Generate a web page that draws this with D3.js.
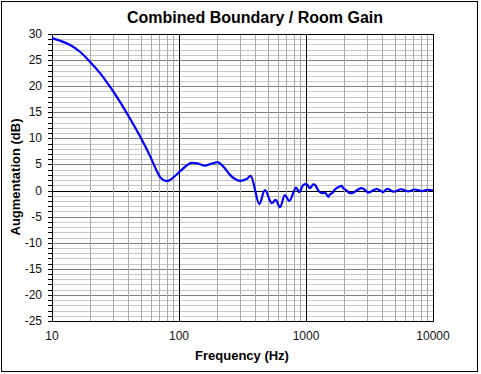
<!DOCTYPE html>
<html>
<head>
<meta charset="utf-8">
<script src="https://cdn.jsdelivr.net/npm/d3@7"></script>
<style>
  body { margin: 0; background: #fff; }
  svg { display: block; font-family: "Liberation Sans", Arial, sans-serif; }
</style>
</head>
<body>
<svg width="481" height="374"></svg>
<script>
// Curve: frequency (Hz) and augmentation (dB)
var freqs = [10, 11.6, 13.9, 16.6, 19.9, 23.9, 28.6, 34.3, 41.1, 49.3, 59.2, 66.7, 72, 78.5,
  84, 91, 102, 115, 125, 140, 160, 178, 204, 225, 252, 276, 302, 341, 367,
  429, 475, 537, 577, 624, 683, 739, 834, 886, 953, 1013, 1075, 1141, 1177,
  1250, 1330, 1412, 1500, 1546, 1623, 1692, 1796, 1909, 1966, 2090, 2219, 2357,
  2534, 2745, 2915, 3097, 3352, 3604, 3828, 4037, 4345, 4932, 5598, 6354, 7212,
  8186, 9136, 10000];
var gains = [29.2, 28.7, 27.9, 26.6, 24.7, 22.5, 19.9, 17.0, 13.8, 10.4, 6.6, 3.8, 2.4, 1.85,
  1.95, 2.6, 3.7, 4.8, 5.3, 5.2, 4.75, 5.1, 5.4, 4.5, 3.0, 2.2, 1.84, 2.2, 2.8,
  -2.6, 0.1, -2.4, -1.8, -3.2, -0.85, -2.0, 0.55, -0.3, 1.1, 1.2, 0.45, 1.2, 1.1,
  0.0, -0.5, -0.4, -1.2, -0.7, -0.4, 0.25, 0.65, 0.9, 0.45, 0.0, -0.5, -0.4,
  0.1, 0.45, 0.1, -0.4, 0.0, 0.3, 0.0, -0.3, 0.3, -0.2, 0.25, -0.15, 0.2,
  -0.1, 0.15, 0.0];

var xTicks = [10, 100, 1000, 10000];
var yTicks = [30, 25, 20, 15, 10, 5, 0, -5, -10, -15, -20, -25];

var svg = d3.select("svg");
var pLeft = 52, pRight = 433, pTop = 34, pBottom = 321;

var x = d3.scaleLog().domain([10, 10000]).range([pLeft, pRight]);
var y = d3.scaleLinear().domain([-25, 30]).range([pBottom, pTop]);

// outer frame
svg.append("rect")
  .attr("x", 1.5).attr("y", 1.5).attr("width", 476).attr("height", 370)
  .attr("fill", "#fff").attr("stroke", "#000").attr("stroke-width", 1);

// title
svg.append("text")
  .attr("x", 255).attr("y", 23)
  .attr("text-anchor", "middle")
  .attr("font-size", 16).attr("font-weight", "bold")
  .text("Combined Boundary / Room Gain");

var grid = svg.append("g");

// horizontal grid, 1 dB steps
d3.range(-24, 30).forEach(function(v) {
  var col = v === 0 ? "#000" : (v % 5 === 0 ? "#808080" : "#c8c8c8");
  grid.append("line")
    .attr("x1", pLeft).attr("x2", pRight)
    .attr("y1", Math.round(y(v)) + 0.5).attr("y2", Math.round(y(v)) + 0.5)
    .attr("stroke", col).attr("stroke-width", 1);
});

// vertical grid, 2..9 of every decade + decades
var minorX = [];
[10, 100, 1000].forEach(function(d) {
  for (var k = 2; k <= 9; k++) minorX.push(d * k);
});
minorX.forEach(function(f) {
  grid.append("line")
    .attr("x1", Math.round(x(f)) + 0.5).attr("x2", Math.round(x(f)) + 0.5)
    .attr("y1", pTop).attr("y2", pBottom)
    .attr("stroke", "#a8a8a8").attr("stroke-width", 1);
});
[100, 1000].forEach(function(f) {
  grid.append("line")
    .attr("x1", Math.round(x(f)) + 0.5).attr("x2", Math.round(x(f)) + 0.5)
    .attr("y1", pTop).attr("y2", pBottom)
    .attr("stroke", "#000").attr("stroke-width", 1);
});

// small ticks left of the y axis
d3.range(-25, 31).forEach(function(v) {
  grid.append("line")
    .attr("x1", pLeft - 4).attr("x2", pLeft)
    .attr("y1", Math.round(y(v)) + 0.5).attr("y2", Math.round(y(v)) + 0.5)
    .attr("stroke", "#000");
});

// plot border
svg.append("rect")
  .attr("x", pLeft + 0.5).attr("y", pTop + 0.5)
  .attr("width", pRight - pLeft).attr("height", pBottom - pTop)
  .attr("fill", "none").attr("stroke", "#000");

// y tick labels
svg.selectAll(".ylab").data(yTicks).enter().append("text")
  .attr("class", "ylab")
  .attr("x", 42).attr("y", function(d) { return y(d) + 4; })
  .attr("text-anchor", "end").attr("font-size", 12).attr("fill", "#111")
  .text(function(d) { return d; });

// x tick labels
svg.selectAll(".xlab").data(xTicks).enter().append("text")
  .attr("class", "xlab")
  .attr("x", function(d) { return x(d); }).attr("y", 340)
  .attr("text-anchor", "middle").attr("font-size", 12).attr("fill", "#111")
  .text(function(d) { return d; });

// axis titles
svg.append("text")
  .attr("x", 242).attr("y", 360)
  .attr("text-anchor", "middle").attr("font-size", 13).attr("font-weight", "bold")
  .text("Frequency (Hz)");

svg.append("text")
  .attr("transform", "translate(20,177) rotate(-90)")
  .attr("text-anchor", "middle").attr("font-size", 13).attr("font-weight", "bold")
  .text("Augmentation (dB)");

// curve
var pts = freqs.map(function(f, i) { return [f, gains[i]]; });
var line = d3.line()
  .x(function(d) { return x(d[0]); })
  .y(function(d) { return y(d[1]); })
  .curve(d3.curveCatmullRom.alpha(0.5));

svg.append("path")
  .datum(pts)
  .attr("d", line)
  .attr("fill", "none")
  .attr("stroke", "#0000ff")
  .attr("stroke-width", 2.2)
  .attr("stroke-linejoin", "round");
</script>
</body>
</html>
